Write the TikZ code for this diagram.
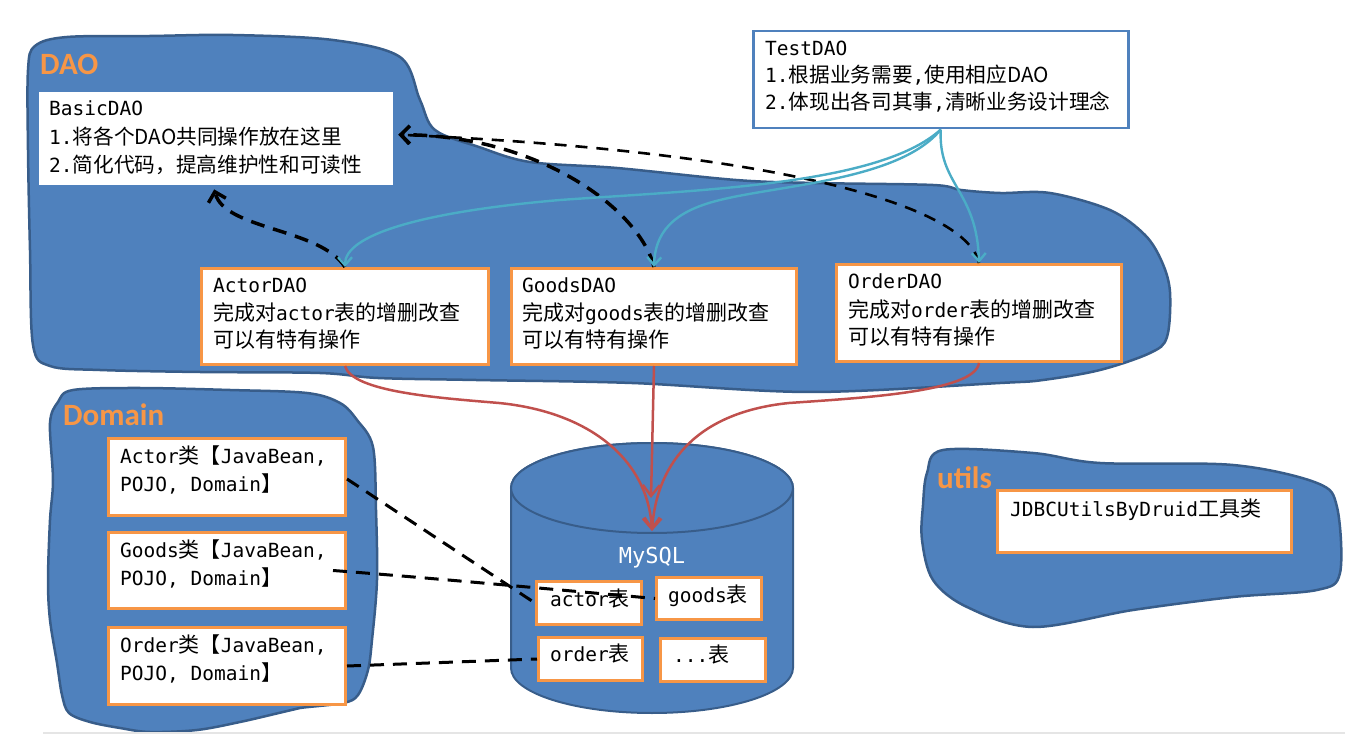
\documentclass[tikz,border=0pt]{standalone}
\usepackage{fontspec}
\setmainfont{Liberation Sans}
\setmonofont{DejaVu Sans Mono}
\newfontfamily\cjkA[Scale=1.077]{Noto Sans CJK SC}
\newfontfamily\cjkB[Scale=1.06]{Noto Sans CJK SC}
\newfontfamily\labfont{Carlito}
\newcommand\zhA[1]{{\cjkA #1}}
\newcommand\zhB[1]{{\cjkB #1}}
\usetikzlibrary{arrows.meta}
\definecolor{blobfill}{HTML}{4F81BD}
\definecolor{blobline}{HTML}{385D8A}
\definecolor{boxorange}{HTML}{F79646}
\definecolor{redline}{HTML}{C0504D}
\definecolor{tealline}{HTML}{4BACC6}
\tikzset{
  blob/.style={fill=blobfill, draw=blobline, line width=2.5pt},
  box/.style={draw=boxorange, line width=3pt, fill=white, inner sep=0pt, anchor=north west},
  plainbox/.style={fill=white, inner sep=0pt, anchor=north west},
  bluebox/.style={draw=blobfill, line width=2.5pt, fill=white, inner sep=0pt, anchor=north west},
  txt/.style={anchor=base west, inner sep=0pt, align=left, font=\fontsize{19.5}{27.5}\selectfont\ttfamily},
  grp/.style={anchor=base west, inner sep=0pt, text=boxorange, font=\fontsize{31}{31}\selectfont\labfont\bfseries},
  inh/.style={draw=black, line width=3.5pt, dash pattern=on 14pt off 9pt, -{Straight Barb[length=9pt,width=18pt]}},
  inhthin/.style={draw=black, line width=2.6pt, dash pattern=on 12pt off 9pt, -{Straight Barb[length=9pt,width=18pt]}},
  map/.style={draw=black, line width=3pt, dash pattern=on 14pt off 9pt},
  use/.style={draw=tealline, line width=2.4pt, -{Straight Barb[length=8pt,width=14pt]}},
  sql/.style={draw=redline, line width=2.5pt, -{Straight Barb[length=11pt,width=17pt]}},
}
\begin{document}
\begin{tikzpicture}[x=1pt,y=-1pt]
\useasboundingbox (0,0) rectangle (1345,735);

% blobs
\path[blob] plot[smooth cycle, tension=0.55] coordinates {
 (28,70) (35,46) (67,37) (150,36) (233,35) (333,40) (400,57) (420,100) (435,130) (479,147)
 (530,162) (617,168) (736,180) (815,183) (933,185) (961,190) (1000,193) (1050,193)
 (1110,210) (1145,235) (1162,262) (1170,292) (1167,337) (1150,353) (1100,370) (1043,380)
 (1000,383) (811,392) (632,383) (476,380) (378,378) (320,373) (200,372) (100,370)
 (50,366) (33,345) (30,250) (28,150)};
\path[blob] plot[smooth cycle, tension=0.55] coordinates {
 (50,423) (58,402) (73,390) (140,388) (230,390) (307,393) (340,403) (357,420) (373,447)
 (376,510) (377,580) (372,640) (368,670) (358,695) (343,703) (300,708) (283,712)
 (240,722) (197,730) (150,732) (120,728) (90,722) (69,713) (62,695) (57,663) (50,620)
 (48,580) (50,520) (53,480)};
\path[blob] plot[smooth cycle, tension=0.55] coordinates {
 (943,450) (1033,453) (1100,463) (1233,465) (1317,483) (1337,507) (1340,573) (1317,590)
 (1233,597) (1133,610) (1033,627) (967,607) (933,580) (922,540) (923,505) (927,473)};

% cylinder
\filldraw[fill=blobfill, draw=blobline, line width=2pt]
 (511,488) -- (511,668) arc[start angle=180, end angle=0, x radius=141, y radius=45]
 -- (793,488) arc[start angle=0, end angle=-180, x radius=141, y radius=45] -- cycle;
\filldraw[fill=blobfill, draw=blobline, line width=2pt] (652,488) ellipse[x radius=141, y radius=45];
\node[anchor=base, inner sep=0pt, text=white, font=\fontsize{22}{22}\selectfont\ttfamily] (mysql) at (652,563) {MySQL};
\coordinate (dbin) at (652,531);
\coordinate (dbmid) at (651,498);

% group labels
\node[grp] (daolab) at (40,75) {DAO};
\node[grp] (domlab) at (63,425) {Domain};
\node[grp] (utillab) at (937,488) {utils};

% boxes
\node[plainbox, minimum width=354pt, minimum height=93pt] (basic) at (39,92) {};
\node[bluebox, minimum width=375pt, minimum height=97pt] (test) at (752,30) {};
\node[box, minimum width=287pt, minimum height=96pt] (actor) at (200,267) {};
\node[box, minimum width=285pt, minimum height=96pt] (goods) at (510,267) {};
\node[box, minimum width=285pt, minimum height=97pt] (order) at (835,263) {};
\node[box, minimum width=237pt, minimum height=77pt] (dA) at (107,437) {};
\node[box, minimum width=237pt, minimum height=76pt] (dG) at (107,531) {};
\node[box, minimum width=237pt, minimum height=77pt] (dO) at (107,626) {};
\node[box, minimum width=294pt, minimum height=62pt] (jdbc) at (996,489) {};
\node[box, minimum width=105pt, minimum height=43pt] (tA) at (535,580) {};
\node[box, minimum width=105pt, minimum height=42pt] (tG) at (655,576) {};
\node[box, minimum width=104pt, minimum height=43pt] (tO) at (537,636) {};
\node[box, minimum width=105pt, minimum height=43pt] (tX) at (659,637) {};

% texts (anchor = baseline of the last line)
\node[txt, font=\fontsize{19.5}{28.5}\selectfont\ttfamily] (basic-t) at (49,173)
 {BasicDAO\\1.\zhB{将各个DAO共同操作放在这里}\\2.\zhB{简化代码，提高维护性和可读性}};
\node[txt, font=\fontsize{19.5}{27}\selectfont\ttfamily] (test-t) at (765,110)
 {TestDAO\\1.\zhB{根据业务需要},\zhB{使用相应DAO}\\2.\zhB{体现出各司其事},\zhB{清晰业务设计理念}};
\node[txt] (actor-t) at (213,348)
 {ActorDAO\\\zhA{完成对}actor\zhA{表的增删改查}\\\zhA{可以有特有操作}};
\node[txt] (goods-t) at (522,348)
 {GoodsDAO\\\zhA{完成对}goods\zhA{表的增删改查}\\\zhA{可以有特有操作}};
\node[txt, font=\fontsize{19.5}{28}\selectfont\ttfamily] (order-t) at (848,345)
 {OrderDAO\\\zhA{完成对}order\zhA{表的增删改查}\\\zhA{可以有特有操作}};
\node[txt, font=\fontsize{19.5}{28}\selectfont\ttfamily] (dA-t) at (120,491) {Actor\zhA{类【}JavaBean,\\POJO, Domain\zhA{】}};
\node[txt, font=\fontsize{19.5}{28}\selectfont\ttfamily] (dG-t) at (120,585) {Goods\zhA{类【}JavaBean,\\POJO, Domain\zhA{】}};
\node[txt, font=\fontsize{19.5}{28}\selectfont\ttfamily] (dO-t) at (120,680) {Order\zhA{类【}JavaBean,\\POJO, Domain\zhA{】}};
\node[txt] (jdbc-t) at (1010,516) {JDBCUtilsByDruid\zhA{工具类}};
\node[txt] (tA-t) at (550,606) {actor\zhA{表}};
\node[txt] (tG-t) at (668,602) {goods\zhA{表}};
\node[txt] (tO-t) at (550,661) {order\zhA{表}};
\node[txt] (tX-t) at (673,662) {...\zhA{表}};

% anchor points on BasicDAO
\coordinate (basicR) at ([shift={(5,-4)}]basic.east);
\coordinate (basicB) at ([xshift=-2pt,yshift=-4pt]basic.south);

% inheritance (dashed black)
\draw[inh] (actor.north) .. controls (320,228) and (225,230) .. (basicB);
\draw[inh] (goods.north) .. controls (640,210) and (540,135) .. (basicR);
\draw[inhthin] (order.north) .. controls (965,200) and (750,150) .. (basicR);

% TestDAO uses (teal)
\draw[use] (test.south) .. controls (880,185) and (700,190) .. (560,200) .. controls (420,212) and (345,235) .. (actor.north);
\draw[use] (test.south) .. controls (900,180) and (780,185) .. (720,200) .. controls (670,212) and (655,235) .. (goods.north);
\draw[use] (test.south) .. controls (938,185) and (977,190) .. (order.north);

% DAO -> MySQL (red)
\draw[sql] (actor.south) .. controls (352,392) and (440,398) .. (499,403) .. controls (590,412) and (648,460) .. (dbin);
\draw[sql] (goods.south) -- (dbmid);
\draw[sql] (order.south) .. controls (975,392) and (860,398) .. (789,403) .. controls (700,412) and (657,460) .. (dbin);

% Domain -> tables (dashed black)
\draw[map] ([yshift=-2pt]dA.east) -- (tA.west);
\draw[map] ([xshift=-14pt]dG.east) .. controls (420,577) and (560,590) .. (tG.west);
\draw[map] (dO.east) -- (tO.west);

% bottom rule of the screenshot
\draw[gray!20, line width=1.5pt] (43,733) -- (1345,733);
\end{tikzpicture}
\end{document}
